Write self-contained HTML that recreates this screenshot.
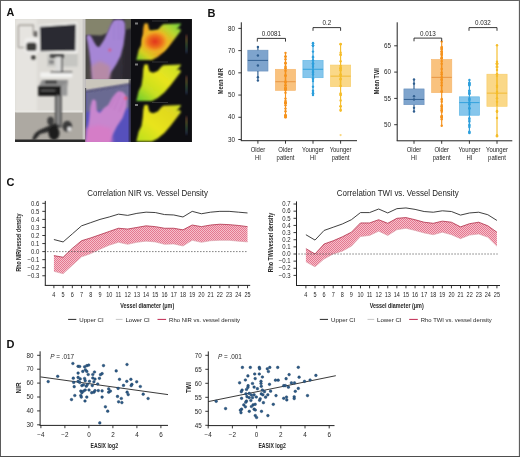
<!DOCTYPE html><html><head><meta charset="utf-8"><style>html,body{margin:0;padding:0;background:#fff;}svg{display:block;font-family:"Liberation Sans", sans-serif;will-change:transform;}</style></head><body>
<svg width="520" height="457" viewBox="0 0 520 457">
<rect width="520" height="457" fill="#fff"/>
<text x="6.40" y="15.80" font-size="10.8" text-anchor="start" font-weight="bold" fill="#111" >A</text>
<defs><filter id="bl1" x="-20%" y="-20%" width="140%" height="140%"><feGaussianBlur stdDeviation="0.8"/></filter><filter id="bl2" x="-20%" y="-20%" width="140%" height="140%"><feGaussianBlur stdDeviation="1.6"/></filter><filter id="bl3" x="-30%" y="-30%" width="160%" height="160%"><feGaussianBlur stdDeviation="3"/></filter><clipPath id="cpA1"><rect x="15" y="19" width="70" height="123"/></clipPath><clipPath id="cpA2"><rect x="85" y="19" width="46" height="60"/></clipPath><clipPath id="cpA3"><rect x="85" y="79" width="46" height="63"/></clipPath><clipPath id="cpA4"><rect x="131" y="19" width="61" height="123"/></clipPath><radialGradient id="hot" cx="0.45" cy="0.5" r="0.5"><stop offset="0" stop-color="#e0301c"/><stop offset="0.45" stop-color="#ec6a1e"/><stop offset="0.8" stop-color="#f0b422"/><stop offset="1" stop-color="#c8d828" stop-opacity="0"/></radialGradient><linearGradient id="th1" x1="0" y1="1" x2="1" y2="0"><stop offset="0" stop-color="#78d030"/><stop offset="0.18" stop-color="#d8d020"/><stop offset="0.35" stop-color="#f0a020"/><stop offset="0.6" stop-color="#f0b020"/><stop offset="0.78" stop-color="#b8d830"/><stop offset="1" stop-color="#70d040"/></linearGradient><linearGradient id="th2" x1="0" y1="1" x2="1" y2="0"><stop offset="0" stop-color="#68cc30"/><stop offset="0.3" stop-color="#c8e020"/><stop offset="0.6" stop-color="#e8e41e"/><stop offset="1" stop-color="#c8e028"/></linearGradient><linearGradient id="th3" x1="0" y1="1" x2="1" y2="0"><stop offset="0" stop-color="#b8e020"/><stop offset="0.4" stop-color="#e8e41c"/><stop offset="0.8" stop-color="#e0d820"/><stop offset="1" stop-color="#c8e028"/></linearGradient><linearGradient id="cbar" x1="0" y1="0" x2="0" y2="1"><stop offset="0" stop-color="#c05050"/><stop offset="0.3" stop-color="#c8b040"/><stop offset="0.6" stop-color="#60b060"/><stop offset="1" stop-color="#4050a0"/></linearGradient></defs>
<g clip-path="url(#cpA1)">
<rect x="15" y="19" width="70" height="123" fill="#dddbd6"/>
<rect x="15" y="19" width="22" height="93" fill="#e6e4e0" filter="url(#bl2)"/>
<rect x="47.2" y="54" width="30.5" height="12.6" fill="#c6c6c2" filter="url(#bl1)"/>
<rect x="15" y="112" width="70" height="30" fill="#ada9a2"/>
<rect x="15" y="110.6" width="70" height="2" fill="#ecebe7" filter="url(#bl1)"/>
<rect x="82.6" y="19" width="2.4" height="123" fill="#c8c6c4"/>
<g filter="url(#bl1)">
<path d="M18.3,47.5 L18.3,26.5 Q18.3,25.1 19.7,25.1 L33.3,25.1 L33.3,35.5" fill="none" stroke="#96928c" stroke-width="1.1"/>
<path d="M18.3,47.5 L25,47.5" fill="none" stroke="#96928c" stroke-width="1.1"/>
<rect x="33.8" y="31.2" width="3.6" height="5.7" fill="#6a6866"/>
<rect x="24.4" y="37.8" width="14.1" height="15.1" rx="4" fill="#efeeec"/>
<rect x="26.3" y="42.5" width="10.3" height="8.5" rx="2.5" fill="#3e3c3a"/>
<circle cx="33.4" cy="57.5" r="2.3" fill="#3a3836"/>
<path d="M38.8,25.2 L77.3,22.3 L77.3,53.1 L38.8,52.1 Z" fill="#f4f4f2"/>
<path d="M39.8,26.7 L75.9,24.3 L75.4,50.7 L40.3,51.2 Z" fill="#2c2b30"/>
<rect x="50" y="54" width="14" height="4" fill="#4a4a4a"/>
<rect x="55.5" y="57" width="7" height="15" fill="#dcdcda"/>
<rect x="61" y="57" width="1.6" height="15" fill="#555"/>
<rect x="49" y="60" width="5" height="4" fill="#8a8a8a"/>
<rect x="40.3" y="72.4" width="32" height="5" fill="#f2f2f0"/>
<rect x="50.3" y="71.6" width="22" height="1.3" fill="#3a3a3a"/>
<path d="M39,86 L42,80 L68,80 L67.3,86 Z" fill="#8c8c8c"/>
<rect x="45" y="80.6" width="12" height="3" fill="#3a3a3a"/>
<rect x="38.2" y="86" width="23" height="10" fill="#1e1e1e"/>
<path d="M61,86 L67.3,82 L67.3,95.7 L61,95.7 Z" fill="#9a9a9a"/>
<rect x="41" y="90" width="14" height="1.2" fill="#666"/>
<rect x="54.9" y="95.7" width="6.9" height="32" fill="#585858"/>
<rect x="57" y="95.7" width="2.6" height="30" fill="#909090"/>
<path d="M32,140 Q34,131 44,128 L55.5,123 L60,126 L52,131 L40,134 L35,140 Z" fill="#2a2a2a"/>
<ellipse cx="54" cy="133" rx="5.5" ry="7" fill="#1e1e1e"/>
<ellipse cx="50.6" cy="121" rx="3.3" ry="4.2" fill="#3c3c3c"/>
<ellipse cx="67.3" cy="126.3" rx="4.8" ry="5.5" fill="#3a3a3a"/>
<circle cx="69.4" cy="129" r="2.2" fill="#e2e2e2"/>
</g>
<rect x="15" y="139.5" width="70" height="2.5" fill="#2a2a2a"/>
</g>
<g clip-path="url(#cpA2)">
<rect x="85" y="19" width="46" height="61" fill="#34303a"/>
<path d="M84,18 L114,18 L111,25 L107.5,33 L101,35.5 L90,35 L84,36 Z" fill="#84846c" filter="url(#bl1)"/>
<path d="M84,36 L89,36 L91,80 L84,80 Z" fill="#4a4644" filter="url(#bl1)"/>
<path d="M124,18 L132,18 L132,80 L122,80 Z" fill="#2a282e" filter="url(#bl1)"/>
<path d="M124,18 L132,18 L132,28 L125,30 Z" fill="#5a5a4e" filter="url(#bl1)"/>
<rect x="84" y="18" width="1.6" height="62" fill="#bcbab6"/>
<g filter="url(#bl1)">
<path d="M92,80 L90.8,65.5 L89.2,52 L87.8,43 L86.6,37.5 Q86.8,34.6 89.5,34.8 L91.5,37 L94,42 L96.5,46 L99,47.2 L102,43 L104.5,39 L107.2,33 L110.6,25 L113.4,20.5 L116.5,19.4 L120,19.4 L123.3,20.3 L125,23.4 L125.2,31.6 L123.5,45.1 L120.6,56 L116.5,64.1 L111.1,72.2 L108.4,80 Z" fill="#a686d6"/>
<path d="M92,82 L91,66 L100,61 L110,66 L110,82 Z" fill="#bc8c98" opacity="0.75" filter="url(#bl2)"/>
<path d="M114,22 L114,40 M118.5,21 L118.5,40 M122.5,22 L121.5,40" stroke="#9070c0" stroke-width="0.6" opacity="0.6"/>
<circle cx="109.8" cy="49.9" r="1.5" fill="#e04868" opacity="0.85"/>
</g>
</g>
<g clip-path="url(#cpA3)">
<rect x="85" y="79" width="46" height="64" fill="#5650bc"/>
<path d="M86,91 L130,84 L130,108 L86,112 Z" fill="#6a6a92" filter="url(#bl2)"/>
<path d="M84,78 L132,78 L132,83.5 L84,91 Z" fill="#cac6bc" filter="url(#bl1)"/>
<path d="M85,91.5 L130,84 " stroke="#3a3a40" stroke-width="1.2" fill="none" filter="url(#bl1)"/>
<rect x="84" y="88" width="2.2" height="55" fill="#5a5a5e"/>
<rect x="129.3" y="79" width="2.7" height="64" fill="#2a2a2e" filter="url(#bl1)"/>
<g filter="url(#bl1)">
<path d="M85.4,143 L86.8,135 L89,120.7 L90.4,106.5 L92,100.5 Q93.3,98.8 94.6,99.8 L96.1,101.5 L96.8,110.8 L99.7,112.9 L104,108 L108.2,105 L112,98 L115.3,93.7 L118.2,91.3 L122.5,91.8 L125.5,94.5 L126.8,99 L126.7,106.5 L122.5,117.9 L116.8,126.4 L112.5,135 L109.6,143 Z" fill="#c886ce"/>
<path d="M85,145 L86,128 L98,125 L111,128 L113,145 Z" fill="#d87cc6" opacity="0.85" filter="url(#bl2)"/>
<path d="M117,94 L110,108 M121,93 L114,110 M125,97 L119,112" stroke="#b060b0" stroke-width="0.6" opacity="0.6"/>
<circle cx="125.8" cy="98.2" r="1.6" fill="#ee5a78"/>
</g>
</g>
<g clip-path="url(#cpA4)">
<rect x="131" y="19" width="61" height="123" fill="#0e0e12"/>
<path d="M136.3,60.0 L138.7,50.1 L141.5,44.4 L142.7,36.3 L143.3,28.2 L144.4,23.6 L147.9,23.4 L148.5,27.1 L149.6,30.5 L153.1,31.7 L157.7,30.0 L161.1,25.9 L163.4,24.2 L180.7,23.4 L180.9,24.4 L176.6,29.2 L179.6,28.6 L181.0,30.5 L178.4,34.0 L170.4,44.4 L164.6,51.3 L157.7,57.1 L151.9,60.0 Z" fill="url(#th1)" filter="url(#bl1)"/>
<ellipse cx="156.5" cy="41.5" rx="15" ry="12.5" fill="url(#hot)" filter="url(#bl1)"/>
<rect x="185.6" y="35" width="1.8" height="18" fill="url(#cbar)" opacity="0.55" filter="url(#bl1)"/>
<rect x="135" y="22.5" width="3" height="2" fill="#aaa" opacity="0.7"/>
<rect x="152" y="20.5" width="16" height="1" fill="#888" opacity="0.3"/>
<path d="M136.3,101.0 L138.7,91.1 L141.5,85.4 L142.7,77.3 L143.3,69.2 L144.4,64.6 L147.9,64.4 L148.5,68.1 L149.6,71.5 L153.1,72.7 L157.7,71.0 L161.1,66.9 L163.4,65.2 L180.7,64.4 L180.9,65.4 L176.6,70.2 L179.6,69.6 L181.0,71.5 L178.4,75.0 L170.4,85.4 L164.6,92.3 L157.7,98.1 L151.9,101.0 Z" fill="url(#th2)" filter="url(#bl1)"/>
<rect x="185.6" y="76" width="1.8" height="18" fill="url(#cbar)" opacity="0.55" filter="url(#bl1)"/>
<rect x="135" y="63.5" width="3" height="2" fill="#aaa" opacity="0.7"/>
<rect x="152" y="61.5" width="16" height="1" fill="#888" opacity="0.3"/>
<path d="M136.3,141.5 L138.7,131.6 L141.5,125.9 L142.7,117.8 L143.3,109.7 L144.4,105.1 L147.9,104.9 L148.5,108.6 L149.6,112.0 L153.1,113.2 L157.7,111.5 L161.1,107.4 L163.4,105.7 L180.7,104.9 L180.9,105.9 L176.6,110.7 L179.6,110.1 L181.0,112.0 L178.4,115.5 L170.4,125.9 L164.6,132.8 L157.7,138.6 L151.9,141.5 Z" fill="url(#th3)" filter="url(#bl1)"/>
<rect x="185.6" y="116.5" width="1.8" height="18" fill="url(#cbar)" opacity="0.55" filter="url(#bl1)"/>
<rect x="135" y="104.0" width="3" height="2" fill="#aaa" opacity="0.7"/>
<rect x="152" y="102.0" width="16" height="1" fill="#888" opacity="0.3"/>
<rect x="191" y="19" width="1" height="123" fill="#1a1a1a"/>
</g>
<text x="207.60" y="16.60" font-size="11" text-anchor="start" font-weight="bold" fill="#111" >B</text>
<rect x="247.80" y="50.18" width="20.2" height="20.89" fill="#7ea4cd" stroke="#6a90bd" stroke-width="0.6"/>
<line x1="247.80" y1="60.40" x2="268.00" y2="60.40" stroke="#2f5e8f" stroke-width="0.95" />
<line x1="257.90" y1="47.06" x2="257.90" y2="50.18" stroke="#2f5e8f" stroke-width="1.15" />
<line x1="257.90" y1="71.06" x2="257.90" y2="80.62" stroke="#2f5e8f" stroke-width="1.15" />
<circle cx="257.90" cy="47.06" r="1.2" fill="#2f5e8f"/>
<circle cx="257.90" cy="55.51" r="1.2" fill="#2f5e8f"/>
<circle cx="257.90" cy="65.51" r="1.2" fill="#2f5e8f"/>
<circle cx="257.90" cy="77.28" r="1.2" fill="#2f5e8f"/>
<circle cx="257.90" cy="80.62" r="1.2" fill="#2f5e8f"/>
<rect x="275.40" y="69.28" width="20.2" height="21.11" fill="#f9c27e" stroke="#f6b468" stroke-width="0.6"/>
<line x1="275.40" y1="81.73" x2="295.60" y2="81.73" stroke="#e89440" stroke-width="0.95" />
<line x1="285.50" y1="52.84" x2="285.50" y2="69.28" stroke="#f5921c" stroke-width="1.15" />
<line x1="285.50" y1="90.39" x2="285.50" y2="117.50" stroke="#f5921c" stroke-width="1.15" />
<circle cx="285.50" cy="108.62" r="1.2" fill="#f5921c"/>
<circle cx="285.50" cy="62.67" r="1.2" fill="#f5921c"/>
<circle cx="285.50" cy="68.06" r="1.2" fill="#f5921c"/>
<circle cx="285.50" cy="100.84" r="1.2" fill="#f5921c"/>
<circle cx="285.50" cy="85.36" r="1.2" fill="#f5921c"/>
<circle cx="285.50" cy="88.32" r="1.2" fill="#f5921c"/>
<circle cx="285.50" cy="75.29" r="1.2" fill="#f5921c"/>
<circle cx="285.50" cy="66.46" r="1.2" fill="#f5921c"/>
<circle cx="285.50" cy="111.23" r="1.2" fill="#f5921c"/>
<circle cx="285.50" cy="115.45" r="1.2" fill="#f5921c"/>
<circle cx="285.50" cy="63.42" r="1.2" fill="#f5921c"/>
<circle cx="285.50" cy="89.39" r="1.2" fill="#f5921c"/>
<circle cx="285.50" cy="68.16" r="1.2" fill="#f5921c"/>
<circle cx="285.50" cy="117.14" r="1.2" fill="#f5921c"/>
<circle cx="285.50" cy="88.58" r="1.2" fill="#f5921c"/>
<circle cx="285.50" cy="70.79" r="1.2" fill="#f5921c"/>
<circle cx="285.50" cy="102.54" r="1.2" fill="#f5921c"/>
<circle cx="285.50" cy="56.37" r="1.2" fill="#f5921c"/>
<circle cx="285.50" cy="59.19" r="1.2" fill="#f5921c"/>
<circle cx="285.50" cy="115.31" r="1.2" fill="#f5921c"/>
<circle cx="285.50" cy="115.64" r="1.2" fill="#f5921c"/>
<circle cx="285.50" cy="82.39" r="1.2" fill="#f5921c"/>
<circle cx="285.50" cy="56.76" r="1.2" fill="#f5921c"/>
<circle cx="285.50" cy="92.72" r="1.2" fill="#f5921c"/>
<circle cx="285.50" cy="103.32" r="1.2" fill="#f5921c"/>
<circle cx="285.50" cy="90.08" r="1.2" fill="#f5921c"/>
<circle cx="285.50" cy="115.41" r="1.2" fill="#f5921c"/>
<circle cx="285.50" cy="102.99" r="1.2" fill="#f5921c"/>
<circle cx="285.50" cy="89.06" r="1.2" fill="#f5921c"/>
<circle cx="285.50" cy="85.33" r="1.2" fill="#f5921c"/>
<circle cx="285.50" cy="102.26" r="1.2" fill="#f5921c"/>
<circle cx="285.50" cy="102.40" r="1.2" fill="#f5921c"/>
<circle cx="285.50" cy="103.18" r="1.2" fill="#f5921c"/>
<circle cx="285.50" cy="87.66" r="1.2" fill="#f5921c"/>
<circle cx="285.50" cy="98.61" r="1.2" fill="#f5921c"/>
<circle cx="285.50" cy="115.90" r="1.2" fill="#f5921c"/>
<circle cx="285.50" cy="63.31" r="1.2" fill="#f5921c"/>
<circle cx="285.50" cy="81.42" r="1.2" fill="#f5921c"/>
<circle cx="285.50" cy="75.89" r="1.2" fill="#f5921c"/>
<circle cx="285.50" cy="105.30" r="1.2" fill="#f5921c"/>
<circle cx="285.50" cy="117.28" r="1.2" fill="#f5921c"/>
<circle cx="285.50" cy="52.84" r="1.2" fill="#f5921c"/>
<line x1="285.50" y1="69.28" x2="285.50" y2="90.39" stroke="#f5921c" stroke-width="1.6"/>
<rect x="302.90" y="60.40" width="20.2" height="17.33" fill="#86c6ec" stroke="#5ab4e4" stroke-width="0.6"/>
<line x1="302.90" y1="69.28" x2="323.10" y2="69.28" stroke="#2d9fdc" stroke-width="0.95" />
<line x1="313.00" y1="43.07" x2="313.00" y2="60.40" stroke="#2d9fdc" stroke-width="1.15" />
<line x1="313.00" y1="77.73" x2="313.00" y2="95.50" stroke="#2d9fdc" stroke-width="1.15" />
<circle cx="313.00" cy="45.35" r="1.2" fill="#2d9fdc"/>
<circle cx="313.00" cy="45.78" r="1.2" fill="#2d9fdc"/>
<circle cx="313.00" cy="92.12" r="1.2" fill="#2d9fdc"/>
<circle cx="313.00" cy="90.65" r="1.2" fill="#2d9fdc"/>
<circle cx="313.00" cy="51.62" r="1.2" fill="#2d9fdc"/>
<circle cx="313.00" cy="56.79" r="1.2" fill="#2d9fdc"/>
<circle cx="313.00" cy="60.24" r="1.2" fill="#2d9fdc"/>
<circle cx="313.00" cy="79.04" r="1.2" fill="#2d9fdc"/>
<circle cx="313.00" cy="63.55" r="1.2" fill="#2d9fdc"/>
<circle cx="313.00" cy="63.51" r="1.2" fill="#2d9fdc"/>
<circle cx="313.00" cy="64.84" r="1.2" fill="#2d9fdc"/>
<circle cx="313.00" cy="86.82" r="1.2" fill="#2d9fdc"/>
<circle cx="313.00" cy="72.67" r="1.2" fill="#2d9fdc"/>
<circle cx="313.00" cy="74.60" r="1.2" fill="#2d9fdc"/>
<circle cx="313.00" cy="57.47" r="1.2" fill="#2d9fdc"/>
<circle cx="313.00" cy="43.33" r="1.2" fill="#2d9fdc"/>
<circle cx="313.00" cy="45.70" r="1.2" fill="#2d9fdc"/>
<circle cx="313.00" cy="66.77" r="1.2" fill="#2d9fdc"/>
<circle cx="313.00" cy="71.93" r="1.2" fill="#2d9fdc"/>
<circle cx="313.00" cy="81.11" r="1.2" fill="#2d9fdc"/>
<circle cx="313.00" cy="93.19" r="1.2" fill="#2d9fdc"/>
<circle cx="313.00" cy="93.63" r="1.2" fill="#2d9fdc"/>
<circle cx="313.00" cy="70.89" r="1.2" fill="#2d9fdc"/>
<circle cx="313.00" cy="78.50" r="1.2" fill="#2d9fdc"/>
<circle cx="313.00" cy="95.06" r="1.2" fill="#2d9fdc"/>
<circle cx="313.00" cy="43.07" r="1.2" fill="#2d9fdc"/>
<line x1="313.00" y1="60.40" x2="313.00" y2="77.73" stroke="#2d9fdc" stroke-width="1.6"/>
<rect x="330.50" y="65.06" width="20.2" height="21.55" fill="#fad888" stroke="#f7cc66" stroke-width="0.6"/>
<line x1="330.50" y1="76.17" x2="350.70" y2="76.17" stroke="#f0b830" stroke-width="0.95" />
<line x1="340.60" y1="43.95" x2="340.60" y2="65.06" stroke="#f5bd2a" stroke-width="1.15" />
<line x1="340.60" y1="86.62" x2="340.60" y2="111.50" stroke="#f5bd2a" stroke-width="1.15" />
<circle cx="340.60" cy="94.75" r="1.2" fill="#f5bd2a"/>
<circle cx="340.60" cy="74.34" r="1.2" fill="#f5bd2a"/>
<circle cx="340.60" cy="85.95" r="1.2" fill="#f5bd2a"/>
<circle cx="340.60" cy="70.36" r="1.2" fill="#f5bd2a"/>
<circle cx="340.60" cy="68.90" r="1.2" fill="#f5bd2a"/>
<circle cx="340.60" cy="106.25" r="1.2" fill="#f5bd2a"/>
<circle cx="340.60" cy="109.74" r="1.2" fill="#f5bd2a"/>
<circle cx="340.60" cy="54.79" r="1.2" fill="#f5bd2a"/>
<circle cx="340.60" cy="93.33" r="1.2" fill="#f5bd2a"/>
<circle cx="340.60" cy="94.99" r="1.2" fill="#f5bd2a"/>
<circle cx="340.60" cy="44.24" r="1.2" fill="#f5bd2a"/>
<circle cx="340.60" cy="79.27" r="1.2" fill="#f5bd2a"/>
<circle cx="340.60" cy="54.86" r="1.2" fill="#f5bd2a"/>
<circle cx="340.60" cy="78.86" r="1.2" fill="#f5bd2a"/>
<circle cx="340.60" cy="68.01" r="1.2" fill="#f5bd2a"/>
<circle cx="340.60" cy="100.57" r="1.2" fill="#f5bd2a"/>
<circle cx="340.60" cy="68.29" r="1.2" fill="#f5bd2a"/>
<circle cx="340.60" cy="52.75" r="1.2" fill="#f5bd2a"/>
<circle cx="340.60" cy="75.74" r="1.2" fill="#f5bd2a"/>
<circle cx="340.60" cy="61.20" r="1.2" fill="#f5bd2a"/>
<circle cx="340.60" cy="65.86" r="1.2" fill="#f5bd2a"/>
<circle cx="340.60" cy="106.35" r="1.2" fill="#f5bd2a"/>
<circle cx="340.60" cy="110.61" r="1.2" fill="#f5bd2a"/>
<circle cx="340.60" cy="43.95" r="1.2" fill="#f5bd2a"/>
<line x1="340.60" y1="65.06" x2="340.60" y2="86.62" stroke="#f5bd2a" stroke-width="1.6"/>
<line x1="241.30" y1="22.30" x2="241.30" y2="140.70" stroke="#222" stroke-width="1" />
<line x1="240.80" y1="140.70" x2="357.00" y2="140.70" stroke="#222" stroke-width="1" />
<line x1="238.30" y1="139.50" x2="241.30" y2="139.50" stroke="#222" stroke-width="0.9" />
<text x="235.10" y="141.70" font-size="6.3" text-anchor="end" font-weight="normal" fill="#262626" >30</text>
<line x1="238.30" y1="117.28" x2="241.30" y2="117.28" stroke="#222" stroke-width="0.9" />
<text x="235.10" y="119.48" font-size="6.3" text-anchor="end" font-weight="normal" fill="#262626" >40</text>
<line x1="238.30" y1="95.06" x2="241.30" y2="95.06" stroke="#222" stroke-width="0.9" />
<text x="235.10" y="97.26" font-size="6.3" text-anchor="end" font-weight="normal" fill="#262626" >50</text>
<line x1="238.30" y1="72.84" x2="241.30" y2="72.84" stroke="#222" stroke-width="0.9" />
<text x="235.10" y="75.04" font-size="6.3" text-anchor="end" font-weight="normal" fill="#262626" >60</text>
<line x1="238.30" y1="50.62" x2="241.30" y2="50.62" stroke="#222" stroke-width="0.9" />
<text x="235.10" y="52.82" font-size="6.3" text-anchor="end" font-weight="normal" fill="#262626" >70</text>
<line x1="238.30" y1="28.40" x2="241.30" y2="28.40" stroke="#222" stroke-width="0.9" />
<text x="235.10" y="30.60" font-size="6.3" text-anchor="end" font-weight="normal" fill="#262626" >80</text>
<line x1="257.90" y1="140.70" x2="257.90" y2="143.70" stroke="#222" stroke-width="0.9" />
<line x1="285.50" y1="140.70" x2="285.50" y2="143.70" stroke="#222" stroke-width="0.9" />
<line x1="313.00" y1="140.70" x2="313.00" y2="143.70" stroke="#222" stroke-width="0.9" />
<line x1="340.60" y1="140.70" x2="340.60" y2="143.70" stroke="#222" stroke-width="0.9" />
<text transform="translate(257.90,152.30) scale(0.93,1)" font-size="6.4" text-anchor="middle" fill="#262626">Older</text>
<text transform="translate(257.90,159.80) scale(0.93,1)" font-size="6.4" text-anchor="middle" fill="#262626">HI</text>
<text transform="translate(285.50,152.30) scale(0.93,1)" font-size="6.4" text-anchor="middle" fill="#262626">Older</text>
<text transform="translate(285.50,159.80) scale(0.93,1)" font-size="6.4" text-anchor="middle" fill="#262626">patient</text>
<text transform="translate(313.00,152.30) scale(0.93,1)" font-size="6.4" text-anchor="middle" fill="#262626">Younger</text>
<text transform="translate(313.00,159.80) scale(0.93,1)" font-size="6.4" text-anchor="middle" fill="#262626">HI</text>
<text transform="translate(340.60,152.30) scale(0.93,1)" font-size="6.4" text-anchor="middle" fill="#262626">Younger</text>
<text transform="translate(340.60,159.80) scale(0.93,1)" font-size="6.4" text-anchor="middle" fill="#262626">patient</text>
<path d="M257.30,41.60 L257.30,38.40 L285.50,38.40 L285.50,41.60" fill="none" stroke="#222" stroke-width="0.9"/>
<text x="271.40" y="35.90" font-size="6.3" text-anchor="middle" font-weight="normal" fill="#262626" >0.0081</text>
<path d="M313.00,30.80 L313.00,27.60 L340.60,27.60 L340.60,30.80" fill="none" stroke="#222" stroke-width="0.9"/>
<text x="326.80" y="25.10" font-size="6.3" text-anchor="middle" font-weight="normal" fill="#262626" >0.2</text>
<text transform="translate(222.60,81.20) rotate(-90)" font-size="7" font-weight="bold" text-anchor="middle" fill="#262626" textLength="26" lengthAdjust="spacingAndGlyphs">Mean NIR</text>
<circle cx="340.60" cy="135.06" r="1.1" fill="#f5bd2a" opacity="0.6"/>
<rect x="403.90" y="88.93" width="20.2" height="15.78" fill="#7ea4cd" stroke="#6a90bd" stroke-width="0.6"/>
<line x1="403.90" y1="99.45" x2="424.10" y2="99.45" stroke="#2f5e8f" stroke-width="0.95" />
<line x1="414.00" y1="79.46" x2="414.00" y2="88.93" stroke="#2f5e8f" stroke-width="1.15" />
<line x1="414.00" y1="104.71" x2="414.00" y2="111.55" stroke="#2f5e8f" stroke-width="1.15" />
<circle cx="414.00" cy="79.46" r="1.2" fill="#2f5e8f"/>
<circle cx="414.00" cy="83.67" r="1.2" fill="#2f5e8f"/>
<circle cx="414.00" cy="96.30" r="1.2" fill="#2f5e8f"/>
<circle cx="414.00" cy="99.45" r="1.2" fill="#2f5e8f"/>
<circle cx="414.00" cy="107.87" r="1.2" fill="#2f5e8f"/>
<circle cx="414.00" cy="111.55" r="1.2" fill="#2f5e8f"/>
<rect x="431.60" y="59.48" width="20.2" height="33.14" fill="#f9c27e" stroke="#f6b468" stroke-width="0.6"/>
<line x1="431.60" y1="77.36" x2="451.80" y2="77.36" stroke="#e89440" stroke-width="0.95" />
<line x1="441.70" y1="41.59" x2="441.70" y2="59.48" stroke="#f5921c" stroke-width="1.15" />
<line x1="441.70" y1="92.61" x2="441.70" y2="125.75" stroke="#f5921c" stroke-width="1.15" />
<circle cx="441.70" cy="105.08" r="1.2" fill="#f5921c"/>
<circle cx="441.70" cy="116.13" r="1.2" fill="#f5921c"/>
<circle cx="441.70" cy="91.78" r="1.2" fill="#f5921c"/>
<circle cx="441.70" cy="111.82" r="1.2" fill="#f5921c"/>
<circle cx="441.70" cy="119.17" r="1.2" fill="#f5921c"/>
<circle cx="441.70" cy="91.32" r="1.2" fill="#f5921c"/>
<circle cx="441.70" cy="48.41" r="1.2" fill="#f5921c"/>
<circle cx="441.70" cy="58.18" r="1.2" fill="#f5921c"/>
<circle cx="441.70" cy="61.11" r="1.2" fill="#f5921c"/>
<circle cx="441.70" cy="106.26" r="1.2" fill="#f5921c"/>
<circle cx="441.70" cy="80.10" r="1.2" fill="#f5921c"/>
<circle cx="441.70" cy="101.71" r="1.2" fill="#f5921c"/>
<circle cx="441.70" cy="110.35" r="1.2" fill="#f5921c"/>
<circle cx="441.70" cy="115.88" r="1.2" fill="#f5921c"/>
<circle cx="441.70" cy="106.88" r="1.2" fill="#f5921c"/>
<circle cx="441.70" cy="47.62" r="1.2" fill="#f5921c"/>
<circle cx="441.70" cy="55.81" r="1.2" fill="#f5921c"/>
<circle cx="441.70" cy="57.66" r="1.2" fill="#f5921c"/>
<circle cx="441.70" cy="58.18" r="1.2" fill="#f5921c"/>
<circle cx="441.70" cy="108.62" r="1.2" fill="#f5921c"/>
<circle cx="441.70" cy="98.95" r="1.2" fill="#f5921c"/>
<circle cx="441.70" cy="72.59" r="1.2" fill="#f5921c"/>
<circle cx="441.70" cy="63.87" r="1.2" fill="#f5921c"/>
<circle cx="441.70" cy="53.67" r="1.2" fill="#f5921c"/>
<circle cx="441.70" cy="51.56" r="1.2" fill="#f5921c"/>
<circle cx="441.70" cy="117.49" r="1.2" fill="#f5921c"/>
<circle cx="441.70" cy="74.35" r="1.2" fill="#f5921c"/>
<circle cx="441.70" cy="68.88" r="1.2" fill="#f5921c"/>
<circle cx="441.70" cy="82.65" r="1.2" fill="#f5921c"/>
<circle cx="441.70" cy="109.92" r="1.2" fill="#f5921c"/>
<circle cx="441.70" cy="85.34" r="1.2" fill="#f5921c"/>
<circle cx="441.70" cy="117.27" r="1.2" fill="#f5921c"/>
<circle cx="441.70" cy="47.03" r="1.2" fill="#f5921c"/>
<circle cx="441.70" cy="52.77" r="1.2" fill="#f5921c"/>
<circle cx="441.70" cy="79.19" r="1.2" fill="#f5921c"/>
<circle cx="441.70" cy="99.75" r="1.2" fill="#f5921c"/>
<circle cx="441.70" cy="49.17" r="1.2" fill="#f5921c"/>
<circle cx="441.70" cy="77.13" r="1.2" fill="#f5921c"/>
<circle cx="441.70" cy="51.37" r="1.2" fill="#f5921c"/>
<circle cx="441.70" cy="54.22" r="1.2" fill="#f5921c"/>
<circle cx="441.70" cy="125.75" r="1.2" fill="#f5921c"/>
<circle cx="441.70" cy="41.59" r="1.2" fill="#f5921c"/>
<line x1="441.70" y1="59.48" x2="441.70" y2="92.61" stroke="#f5921c" stroke-width="1.6"/>
<rect x="459.30" y="96.82" width="20.2" height="18.41" fill="#86c6ec" stroke="#5ab4e4" stroke-width="0.6"/>
<line x1="459.30" y1="102.61" x2="479.50" y2="102.61" stroke="#2d9fdc" stroke-width="0.95" />
<line x1="469.40" y1="79.99" x2="469.40" y2="96.82" stroke="#2d9fdc" stroke-width="1.15" />
<line x1="469.40" y1="115.23" x2="469.40" y2="133.12" stroke="#2d9fdc" stroke-width="1.15" />
<circle cx="469.40" cy="100.02" r="1.2" fill="#2d9fdc"/>
<circle cx="469.40" cy="93.71" r="1.2" fill="#2d9fdc"/>
<circle cx="469.40" cy="90.87" r="1.2" fill="#2d9fdc"/>
<circle cx="469.40" cy="83.05" r="1.2" fill="#2d9fdc"/>
<circle cx="469.40" cy="93.81" r="1.2" fill="#2d9fdc"/>
<circle cx="469.40" cy="84.12" r="1.2" fill="#2d9fdc"/>
<circle cx="469.40" cy="131.58" r="1.2" fill="#2d9fdc"/>
<circle cx="469.40" cy="108.38" r="1.2" fill="#2d9fdc"/>
<circle cx="469.40" cy="83.00" r="1.2" fill="#2d9fdc"/>
<circle cx="469.40" cy="98.64" r="1.2" fill="#2d9fdc"/>
<circle cx="469.40" cy="85.25" r="1.2" fill="#2d9fdc"/>
<circle cx="469.40" cy="127.10" r="1.2" fill="#2d9fdc"/>
<circle cx="469.40" cy="108.20" r="1.2" fill="#2d9fdc"/>
<circle cx="469.40" cy="120.02" r="1.2" fill="#2d9fdc"/>
<circle cx="469.40" cy="104.23" r="1.2" fill="#2d9fdc"/>
<circle cx="469.40" cy="102.62" r="1.2" fill="#2d9fdc"/>
<circle cx="469.40" cy="132.42" r="1.2" fill="#2d9fdc"/>
<circle cx="469.40" cy="121.60" r="1.2" fill="#2d9fdc"/>
<circle cx="469.40" cy="118.27" r="1.2" fill="#2d9fdc"/>
<circle cx="469.40" cy="84.43" r="1.2" fill="#2d9fdc"/>
<circle cx="469.40" cy="92.44" r="1.2" fill="#2d9fdc"/>
<circle cx="469.40" cy="124.64" r="1.2" fill="#2d9fdc"/>
<circle cx="469.40" cy="90.77" r="1.2" fill="#2d9fdc"/>
<circle cx="469.40" cy="125.74" r="1.2" fill="#2d9fdc"/>
<circle cx="469.40" cy="133.12" r="1.2" fill="#2d9fdc"/>
<circle cx="469.40" cy="79.99" r="1.2" fill="#2d9fdc"/>
<line x1="469.40" y1="96.82" x2="469.40" y2="115.23" stroke="#2d9fdc" stroke-width="1.6"/>
<rect x="486.90" y="74.20" width="20.2" height="32.09" fill="#fad888" stroke="#f7cc66" stroke-width="0.6"/>
<line x1="486.90" y1="93.14" x2="507.10" y2="93.14" stroke="#f0b830" stroke-width="0.95" />
<line x1="497.00" y1="45.27" x2="497.00" y2="74.20" stroke="#f5bd2a" stroke-width="1.15" />
<line x1="497.00" y1="106.29" x2="497.00" y2="136.27" stroke="#f5bd2a" stroke-width="1.15" />
<circle cx="497.00" cy="64.28" r="1.2" fill="#f5bd2a"/>
<circle cx="497.00" cy="61.72" r="1.2" fill="#f5bd2a"/>
<circle cx="497.00" cy="91.85" r="1.2" fill="#f5bd2a"/>
<circle cx="497.00" cy="111.83" r="1.2" fill="#f5bd2a"/>
<circle cx="497.00" cy="135.18" r="1.2" fill="#f5bd2a"/>
<circle cx="497.00" cy="75.95" r="1.2" fill="#f5bd2a"/>
<circle cx="497.00" cy="93.17" r="1.2" fill="#f5bd2a"/>
<circle cx="497.00" cy="67.28" r="1.2" fill="#f5bd2a"/>
<circle cx="497.00" cy="101.85" r="1.2" fill="#f5bd2a"/>
<circle cx="497.00" cy="66.35" r="1.2" fill="#f5bd2a"/>
<circle cx="497.00" cy="110.84" r="1.2" fill="#f5bd2a"/>
<circle cx="497.00" cy="63.51" r="1.2" fill="#f5bd2a"/>
<circle cx="497.00" cy="69.96" r="1.2" fill="#f5bd2a"/>
<circle cx="497.00" cy="98.20" r="1.2" fill="#f5bd2a"/>
<circle cx="497.00" cy="87.08" r="1.2" fill="#f5bd2a"/>
<circle cx="497.00" cy="74.23" r="1.2" fill="#f5bd2a"/>
<circle cx="497.00" cy="117.96" r="1.2" fill="#f5bd2a"/>
<circle cx="497.00" cy="85.72" r="1.2" fill="#f5bd2a"/>
<circle cx="497.00" cy="63.23" r="1.2" fill="#f5bd2a"/>
<circle cx="497.00" cy="111.48" r="1.2" fill="#f5bd2a"/>
<circle cx="497.00" cy="63.38" r="1.2" fill="#f5bd2a"/>
<circle cx="497.00" cy="73.91" r="1.2" fill="#f5bd2a"/>
<circle cx="497.00" cy="136.27" r="1.2" fill="#f5bd2a"/>
<circle cx="497.00" cy="45.27" r="1.2" fill="#f5bd2a"/>
<line x1="497.00" y1="74.20" x2="497.00" y2="106.29" stroke="#f5bd2a" stroke-width="1.6"/>
<line x1="397.20" y1="22.30" x2="397.20" y2="140.80" stroke="#222" stroke-width="1" />
<line x1="396.70" y1="140.80" x2="512.30" y2="140.80" stroke="#222" stroke-width="1" />
<line x1="394.20" y1="124.70" x2="397.20" y2="124.70" stroke="#222" stroke-width="0.9" />
<text x="391.00" y="126.90" font-size="6.3" text-anchor="end" font-weight="normal" fill="#262626" >50</text>
<line x1="394.20" y1="98.40" x2="397.20" y2="98.40" stroke="#222" stroke-width="0.9" />
<text x="391.00" y="100.60" font-size="6.3" text-anchor="end" font-weight="normal" fill="#262626" >55</text>
<line x1="394.20" y1="72.10" x2="397.20" y2="72.10" stroke="#222" stroke-width="0.9" />
<text x="391.00" y="74.30" font-size="6.3" text-anchor="end" font-weight="normal" fill="#262626" >60</text>
<line x1="394.20" y1="45.80" x2="397.20" y2="45.80" stroke="#222" stroke-width="0.9" />
<text x="391.00" y="48.00" font-size="6.3" text-anchor="end" font-weight="normal" fill="#262626" >65</text>
<line x1="414.00" y1="140.80" x2="414.00" y2="143.80" stroke="#222" stroke-width="0.9" />
<line x1="441.70" y1="140.80" x2="441.70" y2="143.80" stroke="#222" stroke-width="0.9" />
<line x1="469.40" y1="140.80" x2="469.40" y2="143.80" stroke="#222" stroke-width="0.9" />
<line x1="497.00" y1="140.80" x2="497.00" y2="143.80" stroke="#222" stroke-width="0.9" />
<text transform="translate(414.00,152.40) scale(0.93,1)" font-size="6.4" text-anchor="middle" fill="#262626">Older</text>
<text transform="translate(414.00,159.90) scale(0.93,1)" font-size="6.4" text-anchor="middle" fill="#262626">HI</text>
<text transform="translate(441.70,152.40) scale(0.93,1)" font-size="6.4" text-anchor="middle" fill="#262626">Older</text>
<text transform="translate(441.70,159.90) scale(0.93,1)" font-size="6.4" text-anchor="middle" fill="#262626">patient</text>
<text transform="translate(469.40,152.40) scale(0.93,1)" font-size="6.4" text-anchor="middle" fill="#262626">Younger</text>
<text transform="translate(469.40,159.90) scale(0.93,1)" font-size="6.4" text-anchor="middle" fill="#262626">HI</text>
<text transform="translate(497.00,152.40) scale(0.93,1)" font-size="6.4" text-anchor="middle" fill="#262626">Younger</text>
<text transform="translate(497.00,159.90) scale(0.93,1)" font-size="6.4" text-anchor="middle" fill="#262626">patient</text>
<path d="M414.00,41.30 L414.00,38.10 L441.70,38.10 L441.70,41.30" fill="none" stroke="#222" stroke-width="0.9"/>
<text x="427.85" y="35.60" font-size="6.3" text-anchor="middle" font-weight="normal" fill="#262626" >0.013</text>
<path d="M469.00,30.80 L469.00,27.60 L497.00,27.60 L497.00,30.80" fill="none" stroke="#222" stroke-width="0.9"/>
<text x="483.00" y="25.10" font-size="6.3" text-anchor="middle" font-weight="normal" fill="#262626" >0.032</text>
<text transform="translate(378.60,81.20) rotate(-90)" font-size="7" font-weight="bold" text-anchor="middle" fill="#262626" textLength="26" lengthAdjust="spacingAndGlyphs">Mean TWI</text>
<defs><pattern id="hatch" width="2" height="2" patternUnits="userSpaceOnUse"><rect width="2" height="2" fill="#f6bfca"/><rect width="1" height="1" fill="#e47890"/><rect x="1" y="1" width="1" height="1" fill="#e47890"/></pattern></defs>
<text x="6.60" y="185.70" font-size="11" text-anchor="start" font-weight="bold" fill="#111" >C</text>
<polygon points="53.90,255.62 63.12,257.24 72.34,248.38 81.56,240.73 90.78,237.91 100.00,234.69 109.22,231.47 118.44,228.25 127.66,229.06 136.88,227.45 146.10,225.84 155.32,226.64 164.54,228.25 173.76,228.25 182.98,229.86 192.20,225.03 201.42,226.64 210.64,225.03 219.86,224.23 229.08,224.63 238.30,225.44 247.52,226.64 247.52,241.94 238.30,241.13 229.08,240.33 219.86,240.33 210.64,240.73 201.42,242.34 192.20,240.33 182.98,245.97 173.76,243.95 164.54,244.35 155.32,241.94 146.10,241.13 136.88,242.34 127.66,244.35 118.44,242.34 109.22,245.16 100.00,249.19 90.78,253.61 81.56,256.83 72.34,265.28 63.12,273.74 53.90,271.32" fill="url(#hatch)" stroke="none"/>
<polyline points="53.90,255.62 63.12,257.24 72.34,248.38 81.56,240.73 90.78,237.91 100.00,234.69 109.22,231.47 118.44,228.25 127.66,229.06 136.88,227.45 146.10,225.84 155.32,226.64 164.54,228.25 173.76,228.25 182.98,229.86 192.20,225.03 201.42,226.64 210.64,225.03 219.86,224.23 229.08,224.63 238.30,225.44 247.52,226.64" fill="none" stroke="#b0304a" stroke-width="0.8"/>
<polyline points="53.90,271.32 63.12,273.74 72.34,265.28 81.56,256.83 90.78,253.61 100.00,249.19 109.22,245.16 118.44,242.34 127.66,244.35 136.88,242.34 146.10,241.13 155.32,241.94 164.54,244.35 173.76,243.95 182.98,245.97 192.20,240.33 201.42,242.34 210.64,240.73 219.86,240.33 229.08,240.33 238.30,241.13 247.52,241.94" fill="none" stroke="#d8a0aa" stroke-width="0.6"/>
<polyline points="53.90,239.53 63.12,241.94 72.34,233.89 81.56,225.84 90.78,222.62 100.00,219.40 109.22,216.98 118.44,214.17 127.66,215.38 136.88,213.36 146.10,212.16 155.32,212.56 164.54,214.57 173.76,214.97 182.98,216.98 192.20,211.35 201.42,213.76 210.64,212.16 219.86,211.35 229.08,211.35 238.30,212.16 247.52,212.96" fill="none" stroke="#2a2a2a" stroke-width="0.9"/>
<line x1="47.30" y1="251.60" x2="247.00" y2="251.60" stroke="#3a3a3a" stroke-width="0.9" stroke-dasharray="1.1,1.9"/>
<line x1="45.30" y1="200.90" x2="45.30" y2="285.40" stroke="#222" stroke-width="1" />
<line x1="44.80" y1="285.40" x2="250.20" y2="285.40" stroke="#222" stroke-width="1" />
<line x1="42.30" y1="275.75" x2="45.30" y2="275.75" stroke="#222" stroke-width="0.9" />
<text transform="translate(39.30,277.95) scale(0.94,1)" font-size="6.4" text-anchor="end" fill="#262626">−0.3</text>
<line x1="42.30" y1="267.70" x2="45.30" y2="267.70" stroke="#222" stroke-width="0.9" />
<text transform="translate(39.30,269.90) scale(0.94,1)" font-size="6.4" text-anchor="end" fill="#262626">−0.2</text>
<line x1="42.30" y1="259.65" x2="45.30" y2="259.65" stroke="#222" stroke-width="0.9" />
<text transform="translate(39.30,261.85) scale(0.94,1)" font-size="6.4" text-anchor="end" fill="#262626">−0.1</text>
<line x1="42.30" y1="251.60" x2="45.30" y2="251.60" stroke="#222" stroke-width="0.9" />
<text transform="translate(39.30,253.80) scale(0.94,1)" font-size="6.4" text-anchor="end" fill="#262626">0.0</text>
<line x1="42.30" y1="243.55" x2="45.30" y2="243.55" stroke="#222" stroke-width="0.9" />
<text transform="translate(39.30,245.75) scale(0.94,1)" font-size="6.4" text-anchor="end" fill="#262626">0.1</text>
<line x1="42.30" y1="235.50" x2="45.30" y2="235.50" stroke="#222" stroke-width="0.9" />
<text transform="translate(39.30,237.70) scale(0.94,1)" font-size="6.4" text-anchor="end" fill="#262626">0.2</text>
<line x1="42.30" y1="227.45" x2="45.30" y2="227.45" stroke="#222" stroke-width="0.9" />
<text transform="translate(39.30,229.65) scale(0.94,1)" font-size="6.4" text-anchor="end" fill="#262626">0.3</text>
<line x1="42.30" y1="219.40" x2="45.30" y2="219.40" stroke="#222" stroke-width="0.9" />
<text transform="translate(39.30,221.60) scale(0.94,1)" font-size="6.4" text-anchor="end" fill="#262626">0.4</text>
<line x1="42.30" y1="211.35" x2="45.30" y2="211.35" stroke="#222" stroke-width="0.9" />
<text transform="translate(39.30,213.55) scale(0.94,1)" font-size="6.4" text-anchor="end" fill="#262626">0.5</text>
<line x1="42.30" y1="203.30" x2="45.30" y2="203.30" stroke="#222" stroke-width="0.9" />
<text transform="translate(39.30,205.50) scale(0.94,1)" font-size="6.4" text-anchor="end" fill="#262626">0.6</text>
<line x1="53.90" y1="285.40" x2="53.90" y2="288.20" stroke="#222" stroke-width="0.9" />
<text transform="translate(53.90,297.20) scale(0.86,1)" font-size="6.4" text-anchor="middle" fill="#262626">4</text>
<line x1="63.12" y1="285.40" x2="63.12" y2="288.20" stroke="#222" stroke-width="0.9" />
<text transform="translate(63.12,297.20) scale(0.86,1)" font-size="6.4" text-anchor="middle" fill="#262626">5</text>
<line x1="72.34" y1="285.40" x2="72.34" y2="288.20" stroke="#222" stroke-width="0.9" />
<text transform="translate(72.34,297.20) scale(0.86,1)" font-size="6.4" text-anchor="middle" fill="#262626">6</text>
<line x1="81.56" y1="285.40" x2="81.56" y2="288.20" stroke="#222" stroke-width="0.9" />
<text transform="translate(81.56,297.20) scale(0.86,1)" font-size="6.4" text-anchor="middle" fill="#262626">7</text>
<line x1="90.78" y1="285.40" x2="90.78" y2="288.20" stroke="#222" stroke-width="0.9" />
<text transform="translate(90.78,297.20) scale(0.86,1)" font-size="6.4" text-anchor="middle" fill="#262626">8</text>
<line x1="100.00" y1="285.40" x2="100.00" y2="288.20" stroke="#222" stroke-width="0.9" />
<text transform="translate(100.00,297.20) scale(0.86,1)" font-size="6.4" text-anchor="middle" fill="#262626">9</text>
<line x1="109.22" y1="285.40" x2="109.22" y2="288.20" stroke="#222" stroke-width="0.9" />
<text transform="translate(109.22,297.20) scale(0.86,1)" font-size="6.4" text-anchor="middle" fill="#262626">10</text>
<line x1="118.44" y1="285.40" x2="118.44" y2="288.20" stroke="#222" stroke-width="0.9" />
<text transform="translate(118.44,297.20) scale(0.86,1)" font-size="6.4" text-anchor="middle" fill="#262626">11</text>
<line x1="127.66" y1="285.40" x2="127.66" y2="288.20" stroke="#222" stroke-width="0.9" />
<text transform="translate(127.66,297.20) scale(0.86,1)" font-size="6.4" text-anchor="middle" fill="#262626">12</text>
<line x1="136.88" y1="285.40" x2="136.88" y2="288.20" stroke="#222" stroke-width="0.9" />
<text transform="translate(136.88,297.20) scale(0.86,1)" font-size="6.4" text-anchor="middle" fill="#262626">13</text>
<line x1="146.10" y1="285.40" x2="146.10" y2="288.20" stroke="#222" stroke-width="0.9" />
<text transform="translate(146.10,297.20) scale(0.86,1)" font-size="6.4" text-anchor="middle" fill="#262626">14</text>
<line x1="155.32" y1="285.40" x2="155.32" y2="288.20" stroke="#222" stroke-width="0.9" />
<text transform="translate(155.32,297.20) scale(0.86,1)" font-size="6.4" text-anchor="middle" fill="#262626">15</text>
<line x1="164.54" y1="285.40" x2="164.54" y2="288.20" stroke="#222" stroke-width="0.9" />
<text transform="translate(164.54,297.20) scale(0.86,1)" font-size="6.4" text-anchor="middle" fill="#262626">16</text>
<line x1="173.76" y1="285.40" x2="173.76" y2="288.20" stroke="#222" stroke-width="0.9" />
<text transform="translate(173.76,297.20) scale(0.86,1)" font-size="6.4" text-anchor="middle" fill="#262626">17</text>
<line x1="182.98" y1="285.40" x2="182.98" y2="288.20" stroke="#222" stroke-width="0.9" />
<text transform="translate(182.98,297.20) scale(0.86,1)" font-size="6.4" text-anchor="middle" fill="#262626">18</text>
<line x1="192.20" y1="285.40" x2="192.20" y2="288.20" stroke="#222" stroke-width="0.9" />
<text transform="translate(192.20,297.20) scale(0.86,1)" font-size="6.4" text-anchor="middle" fill="#262626">19</text>
<line x1="201.42" y1="285.40" x2="201.42" y2="288.20" stroke="#222" stroke-width="0.9" />
<text transform="translate(201.42,297.20) scale(0.86,1)" font-size="6.4" text-anchor="middle" fill="#262626">20</text>
<line x1="210.64" y1="285.40" x2="210.64" y2="288.20" stroke="#222" stroke-width="0.9" />
<text transform="translate(210.64,297.20) scale(0.86,1)" font-size="6.4" text-anchor="middle" fill="#262626">21</text>
<line x1="219.86" y1="285.40" x2="219.86" y2="288.20" stroke="#222" stroke-width="0.9" />
<text transform="translate(219.86,297.20) scale(0.86,1)" font-size="6.4" text-anchor="middle" fill="#262626">22</text>
<line x1="229.08" y1="285.40" x2="229.08" y2="288.20" stroke="#222" stroke-width="0.9" />
<text transform="translate(229.08,297.20) scale(0.86,1)" font-size="6.4" text-anchor="middle" fill="#262626">23</text>
<line x1="238.30" y1="285.40" x2="238.30" y2="288.20" stroke="#222" stroke-width="0.9" />
<text transform="translate(238.30,297.20) scale(0.86,1)" font-size="6.4" text-anchor="middle" fill="#262626">24</text>
<line x1="247.52" y1="285.40" x2="247.52" y2="288.20" stroke="#222" stroke-width="0.9" />
<text transform="translate(247.52,297.20) scale(0.86,1)" font-size="6.4" text-anchor="middle" fill="#262626">25</text>
<text x="147.60" y="195.7" font-size="8.6" text-anchor="middle" fill="#222" textLength="120.6" lengthAdjust="spacingAndGlyphs">Correlation NIR vs. Vessel Density</text>
<text x="147.20" y="308.00" font-size="7" font-weight="bold" text-anchor="middle" fill="#262626" textLength="54" lengthAdjust="spacingAndGlyphs">Vessel diameter (μm)</text>
<text transform="translate(21.40,242.60) rotate(-90)" font-size="7" font-weight="bold" text-anchor="middle" fill="#262626" textLength="58" lengthAdjust="spacingAndGlyphs">Rho NIR/vessel density</text>
<polygon points="305.90,248.65 315.00,254.00 324.09,244.00 333.19,240.79 342.28,236.86 351.38,232.22 360.48,222.94 369.57,222.94 378.67,219.73 387.76,223.30 396.86,218.30 405.96,217.59 415.05,219.73 424.15,222.23 433.24,223.30 442.34,221.16 451.44,222.23 460.53,226.87 469.63,223.66 478.72,222.23 487.82,225.80 496.92,232.22 496.92,246.15 487.82,237.22 478.72,234.01 469.63,235.08 460.53,238.65 451.44,234.72 442.34,232.22 433.24,234.72 424.15,232.94 415.05,230.44 405.96,228.30 396.86,229.72 387.76,235.44 378.67,231.15 369.57,235.44 360.48,236.51 351.38,246.15 342.28,251.14 333.19,254.00 324.09,259.00 315.00,266.85 305.90,261.85" fill="url(#hatch)" stroke="none"/>
<polyline points="305.90,248.65 315.00,254.00 324.09,244.00 333.19,240.79 342.28,236.86 351.38,232.22 360.48,222.94 369.57,222.94 378.67,219.73 387.76,223.30 396.86,218.30 405.96,217.59 415.05,219.73 424.15,222.23 433.24,223.30 442.34,221.16 451.44,222.23 460.53,226.87 469.63,223.66 478.72,222.23 487.82,225.80 496.92,232.22" fill="none" stroke="#b0304a" stroke-width="0.8"/>
<polyline points="305.90,261.85 315.00,266.85 324.09,259.00 333.19,254.00 342.28,251.14 351.38,246.15 360.48,236.51 369.57,235.44 378.67,231.15 387.76,235.44 396.86,229.72 405.96,228.30 415.05,230.44 424.15,232.94 433.24,234.72 442.34,232.22 451.44,234.72 460.53,238.65 469.63,235.08 478.72,234.01 487.82,237.22 496.92,246.15" fill="none" stroke="#d8a0aa" stroke-width="0.6"/>
<polyline points="305.90,234.72 315.00,240.08 324.09,230.44 333.19,227.22 342.28,224.01 351.38,219.73 360.48,212.59 369.57,212.59 378.67,209.02 387.76,212.94 396.86,208.66 405.96,207.95 415.05,209.38 424.15,211.52 433.24,212.23 442.34,210.80 451.44,211.52 460.53,215.09 469.63,212.94 478.72,212.23 487.82,214.73 496.92,220.44" fill="none" stroke="#2a2a2a" stroke-width="0.9"/>
<line x1="298.50" y1="254.00" x2="497.50" y2="254.00" stroke="#3a3a3a" stroke-width="0.9" stroke-dasharray="1.1,1.9"/>
<line x1="296.50" y1="201.40" x2="296.50" y2="285.50" stroke="#222" stroke-width="1" />
<line x1="296.00" y1="285.50" x2="500.00" y2="285.50" stroke="#222" stroke-width="1" />
<line x1="293.50" y1="275.42" x2="296.50" y2="275.42" stroke="#222" stroke-width="0.9" />
<text transform="translate(290.50,277.62) scale(0.94,1)" font-size="6.4" text-anchor="end" fill="#262626">−0.3</text>
<line x1="293.50" y1="268.28" x2="296.50" y2="268.28" stroke="#222" stroke-width="0.9" />
<text transform="translate(290.50,270.48) scale(0.94,1)" font-size="6.4" text-anchor="end" fill="#262626">−0.2</text>
<line x1="293.50" y1="261.14" x2="296.50" y2="261.14" stroke="#222" stroke-width="0.9" />
<text transform="translate(290.50,263.34) scale(0.94,1)" font-size="6.4" text-anchor="end" fill="#262626">−0.1</text>
<line x1="293.50" y1="254.00" x2="296.50" y2="254.00" stroke="#222" stroke-width="0.9" />
<text transform="translate(290.50,256.20) scale(0.94,1)" font-size="6.4" text-anchor="end" fill="#262626">0.0</text>
<line x1="293.50" y1="246.86" x2="296.50" y2="246.86" stroke="#222" stroke-width="0.9" />
<text transform="translate(290.50,249.06) scale(0.94,1)" font-size="6.4" text-anchor="end" fill="#262626">0.1</text>
<line x1="293.50" y1="239.72" x2="296.50" y2="239.72" stroke="#222" stroke-width="0.9" />
<text transform="translate(290.50,241.92) scale(0.94,1)" font-size="6.4" text-anchor="end" fill="#262626">0.2</text>
<line x1="293.50" y1="232.58" x2="296.50" y2="232.58" stroke="#222" stroke-width="0.9" />
<text transform="translate(290.50,234.78) scale(0.94,1)" font-size="6.4" text-anchor="end" fill="#262626">0.3</text>
<line x1="293.50" y1="225.44" x2="296.50" y2="225.44" stroke="#222" stroke-width="0.9" />
<text transform="translate(290.50,227.64) scale(0.94,1)" font-size="6.4" text-anchor="end" fill="#262626">0.4</text>
<line x1="293.50" y1="218.30" x2="296.50" y2="218.30" stroke="#222" stroke-width="0.9" />
<text transform="translate(290.50,220.50) scale(0.94,1)" font-size="6.4" text-anchor="end" fill="#262626">0.5</text>
<line x1="293.50" y1="211.16" x2="296.50" y2="211.16" stroke="#222" stroke-width="0.9" />
<text transform="translate(290.50,213.36) scale(0.94,1)" font-size="6.4" text-anchor="end" fill="#262626">0.6</text>
<line x1="293.50" y1="204.02" x2="296.50" y2="204.02" stroke="#222" stroke-width="0.9" />
<text transform="translate(290.50,206.22) scale(0.94,1)" font-size="6.4" text-anchor="end" fill="#262626">0.7</text>
<line x1="305.90" y1="285.50" x2="305.90" y2="288.30" stroke="#222" stroke-width="0.9" />
<text transform="translate(305.90,297.30) scale(0.86,1)" font-size="6.4" text-anchor="middle" fill="#262626">4</text>
<line x1="315.00" y1="285.50" x2="315.00" y2="288.30" stroke="#222" stroke-width="0.9" />
<text transform="translate(315.00,297.30) scale(0.86,1)" font-size="6.4" text-anchor="middle" fill="#262626">5</text>
<line x1="324.09" y1="285.50" x2="324.09" y2="288.30" stroke="#222" stroke-width="0.9" />
<text transform="translate(324.09,297.30) scale(0.86,1)" font-size="6.4" text-anchor="middle" fill="#262626">6</text>
<line x1="333.19" y1="285.50" x2="333.19" y2="288.30" stroke="#222" stroke-width="0.9" />
<text transform="translate(333.19,297.30) scale(0.86,1)" font-size="6.4" text-anchor="middle" fill="#262626">7</text>
<line x1="342.28" y1="285.50" x2="342.28" y2="288.30" stroke="#222" stroke-width="0.9" />
<text transform="translate(342.28,297.30) scale(0.86,1)" font-size="6.4" text-anchor="middle" fill="#262626">8</text>
<line x1="351.38" y1="285.50" x2="351.38" y2="288.30" stroke="#222" stroke-width="0.9" />
<text transform="translate(351.38,297.30) scale(0.86,1)" font-size="6.4" text-anchor="middle" fill="#262626">9</text>
<line x1="360.48" y1="285.50" x2="360.48" y2="288.30" stroke="#222" stroke-width="0.9" />
<text transform="translate(360.48,297.30) scale(0.86,1)" font-size="6.4" text-anchor="middle" fill="#262626">10</text>
<line x1="369.57" y1="285.50" x2="369.57" y2="288.30" stroke="#222" stroke-width="0.9" />
<text transform="translate(369.57,297.30) scale(0.86,1)" font-size="6.4" text-anchor="middle" fill="#262626">11</text>
<line x1="378.67" y1="285.50" x2="378.67" y2="288.30" stroke="#222" stroke-width="0.9" />
<text transform="translate(378.67,297.30) scale(0.86,1)" font-size="6.4" text-anchor="middle" fill="#262626">12</text>
<line x1="387.76" y1="285.50" x2="387.76" y2="288.30" stroke="#222" stroke-width="0.9" />
<text transform="translate(387.76,297.30) scale(0.86,1)" font-size="6.4" text-anchor="middle" fill="#262626">13</text>
<line x1="396.86" y1="285.50" x2="396.86" y2="288.30" stroke="#222" stroke-width="0.9" />
<text transform="translate(396.86,297.30) scale(0.86,1)" font-size="6.4" text-anchor="middle" fill="#262626">14</text>
<line x1="405.96" y1="285.50" x2="405.96" y2="288.30" stroke="#222" stroke-width="0.9" />
<text transform="translate(405.96,297.30) scale(0.86,1)" font-size="6.4" text-anchor="middle" fill="#262626">15</text>
<line x1="415.05" y1="285.50" x2="415.05" y2="288.30" stroke="#222" stroke-width="0.9" />
<text transform="translate(415.05,297.30) scale(0.86,1)" font-size="6.4" text-anchor="middle" fill="#262626">16</text>
<line x1="424.15" y1="285.50" x2="424.15" y2="288.30" stroke="#222" stroke-width="0.9" />
<text transform="translate(424.15,297.30) scale(0.86,1)" font-size="6.4" text-anchor="middle" fill="#262626">17</text>
<line x1="433.24" y1="285.50" x2="433.24" y2="288.30" stroke="#222" stroke-width="0.9" />
<text transform="translate(433.24,297.30) scale(0.86,1)" font-size="6.4" text-anchor="middle" fill="#262626">18</text>
<line x1="442.34" y1="285.50" x2="442.34" y2="288.30" stroke="#222" stroke-width="0.9" />
<text transform="translate(442.34,297.30) scale(0.86,1)" font-size="6.4" text-anchor="middle" fill="#262626">19</text>
<line x1="451.44" y1="285.50" x2="451.44" y2="288.30" stroke="#222" stroke-width="0.9" />
<text transform="translate(451.44,297.30) scale(0.86,1)" font-size="6.4" text-anchor="middle" fill="#262626">20</text>
<line x1="460.53" y1="285.50" x2="460.53" y2="288.30" stroke="#222" stroke-width="0.9" />
<text transform="translate(460.53,297.30) scale(0.86,1)" font-size="6.4" text-anchor="middle" fill="#262626">21</text>
<line x1="469.63" y1="285.50" x2="469.63" y2="288.30" stroke="#222" stroke-width="0.9" />
<text transform="translate(469.63,297.30) scale(0.86,1)" font-size="6.4" text-anchor="middle" fill="#262626">22</text>
<line x1="478.72" y1="285.50" x2="478.72" y2="288.30" stroke="#222" stroke-width="0.9" />
<text transform="translate(478.72,297.30) scale(0.86,1)" font-size="6.4" text-anchor="middle" fill="#262626">23</text>
<line x1="487.82" y1="285.50" x2="487.82" y2="288.30" stroke="#222" stroke-width="0.9" />
<text transform="translate(487.82,297.30) scale(0.86,1)" font-size="6.4" text-anchor="middle" fill="#262626">24</text>
<line x1="496.92" y1="285.50" x2="496.92" y2="288.30" stroke="#222" stroke-width="0.9" />
<text transform="translate(496.92,297.30) scale(0.86,1)" font-size="6.4" text-anchor="middle" fill="#262626">25</text>
<text x="397.80" y="195.7" font-size="8.6" text-anchor="middle" fill="#222" textLength="121.9" lengthAdjust="spacingAndGlyphs">Correlation TWI vs. Vessel Density</text>
<text x="396.70" y="308.10" font-size="7" font-weight="bold" text-anchor="middle" fill="#262626" textLength="54" lengthAdjust="spacingAndGlyphs">Vessel diameter (μm)</text>
<text transform="translate(272.80,242.50) rotate(-90)" font-size="7" font-weight="bold" text-anchor="middle" fill="#262626" textLength="59.5" lengthAdjust="spacingAndGlyphs">Rho TWI/vessel density</text>
<line x1="68.10" y1="319.40" x2="76.30" y2="319.40" stroke="#2a2a2a" stroke-width="1" />
<text x="79.30" y="321.60" font-size="6.1" text-anchor="start" font-weight="normal" fill="#262626" >Upper CI</text>
<line x1="115.80" y1="319.40" x2="122.50" y2="319.40" stroke="#c8c8c8" stroke-width="1" />
<text x="125.40" y="321.60" font-size="6.1" text-anchor="start" font-weight="normal" fill="#262626" >Lower CI</text>
<line x1="157.50" y1="319.40" x2="166.10" y2="319.40" stroke="#c02850" stroke-width="1" />
<text x="169.10" y="321.60" font-size="6.2" fill="#262626" textLength="71" lengthAdjust="spacingAndGlyphs">Rho NIR vs. vessel density</text>
<line x1="319.80" y1="319.40" x2="328.00" y2="319.40" stroke="#2a2a2a" stroke-width="1" />
<text x="331.00" y="321.60" font-size="6.1" text-anchor="start" font-weight="normal" fill="#262626" >Upper CI</text>
<line x1="367.50" y1="319.40" x2="374.20" y2="319.40" stroke="#c8c8c8" stroke-width="1" />
<text x="377.10" y="321.60" font-size="6.1" text-anchor="start" font-weight="normal" fill="#262626" >Lower CI</text>
<line x1="409.20" y1="319.40" x2="417.80" y2="319.40" stroke="#c02850" stroke-width="1" />
<text x="420.80" y="321.60" font-size="6.2" fill="#262626" textLength="71" lengthAdjust="spacingAndGlyphs">Rho TWI vs. vessel density</text>
<text x="6.60" y="348.10" font-size="11" text-anchor="start" font-weight="bold" fill="#111" >D</text>
<line x1="40.50" y1="376.90" x2="168.00" y2="394.60" stroke="#222" stroke-width="0.9"/>
<circle cx="72.90" cy="363.50" r="1.35" fill="#2c5a88" stroke="#1c3c5c" stroke-width="0.4"/>
<circle cx="78.10" cy="366.30" r="1.35" fill="#2c5a88" stroke="#1c3c5c" stroke-width="0.4"/>
<circle cx="79.70" cy="366.50" r="1.35" fill="#2c5a88" stroke="#1c3c5c" stroke-width="0.4"/>
<circle cx="84.60" cy="366.80" r="1.35" fill="#2c5a88" stroke="#1c3c5c" stroke-width="0.4"/>
<circle cx="86.80" cy="365.70" r="1.35" fill="#2c5a88" stroke="#1c3c5c" stroke-width="0.4"/>
<circle cx="88.70" cy="365.10" r="1.35" fill="#2c5a88" stroke="#1c3c5c" stroke-width="0.4"/>
<circle cx="103.50" cy="365.60" r="1.35" fill="#2c5a88" stroke="#1c3c5c" stroke-width="0.4"/>
<circle cx="82.80" cy="371.40" r="1.35" fill="#2c5a88" stroke="#1c3c5c" stroke-width="0.4"/>
<circle cx="85.40" cy="369.80" r="1.35" fill="#2c5a88" stroke="#1c3c5c" stroke-width="0.4"/>
<circle cx="86.80" cy="371.40" r="1.35" fill="#2c5a88" stroke="#1c3c5c" stroke-width="0.4"/>
<circle cx="88.20" cy="374.50" r="1.35" fill="#2c5a88" stroke="#1c3c5c" stroke-width="0.4"/>
<circle cx="78.10" cy="373.10" r="1.35" fill="#2c5a88" stroke="#1c3c5c" stroke-width="0.4"/>
<circle cx="94.50" cy="372.00" r="1.35" fill="#2c5a88" stroke="#1c3c5c" stroke-width="0.4"/>
<circle cx="92.80" cy="374.50" r="1.35" fill="#2c5a88" stroke="#1c3c5c" stroke-width="0.4"/>
<circle cx="102.10" cy="373.60" r="1.35" fill="#2c5a88" stroke="#1c3c5c" stroke-width="0.4"/>
<circle cx="100.50" cy="374.70" r="1.35" fill="#2c5a88" stroke="#1c3c5c" stroke-width="0.4"/>
<circle cx="73.30" cy="378.20" r="1.35" fill="#2c5a88" stroke="#1c3c5c" stroke-width="0.4"/>
<circle cx="78.10" cy="377.40" r="1.35" fill="#2c5a88" stroke="#1c3c5c" stroke-width="0.4"/>
<circle cx="80.20" cy="378.90" r="1.35" fill="#2c5a88" stroke="#1c3c5c" stroke-width="0.4"/>
<circle cx="84.60" cy="378.50" r="1.35" fill="#2c5a88" stroke="#1c3c5c" stroke-width="0.4"/>
<circle cx="85.20" cy="380.70" r="1.35" fill="#2c5a88" stroke="#1c3c5c" stroke-width="0.4"/>
<circle cx="92.80" cy="378.00" r="1.35" fill="#2c5a88" stroke="#1c3c5c" stroke-width="0.4"/>
<circle cx="95.00" cy="379.10" r="1.35" fill="#2c5a88" stroke="#1c3c5c" stroke-width="0.4"/>
<circle cx="99.40" cy="378.30" r="1.35" fill="#2c5a88" stroke="#1c3c5c" stroke-width="0.4"/>
<circle cx="73.70" cy="382.40" r="1.35" fill="#2c5a88" stroke="#1c3c5c" stroke-width="0.4"/>
<circle cx="78.10" cy="381.30" r="1.35" fill="#2c5a88" stroke="#1c3c5c" stroke-width="0.4"/>
<circle cx="79.70" cy="382.40" r="1.35" fill="#2c5a88" stroke="#1c3c5c" stroke-width="0.4"/>
<circle cx="89.50" cy="381.30" r="1.35" fill="#2c5a88" stroke="#1c3c5c" stroke-width="0.4"/>
<circle cx="93.90" cy="381.80" r="1.35" fill="#2c5a88" stroke="#1c3c5c" stroke-width="0.4"/>
<circle cx="74.20" cy="386.70" r="1.35" fill="#2c5a88" stroke="#1c3c5c" stroke-width="0.4"/>
<circle cx="81.90" cy="385.60" r="1.35" fill="#2c5a88" stroke="#1c3c5c" stroke-width="0.4"/>
<circle cx="83.50" cy="384.80" r="1.35" fill="#2c5a88" stroke="#1c3c5c" stroke-width="0.4"/>
<circle cx="86.30" cy="386.20" r="1.35" fill="#2c5a88" stroke="#1c3c5c" stroke-width="0.4"/>
<circle cx="87.40" cy="384.50" r="1.35" fill="#2c5a88" stroke="#1c3c5c" stroke-width="0.4"/>
<circle cx="92.30" cy="385.60" r="1.35" fill="#2c5a88" stroke="#1c3c5c" stroke-width="0.4"/>
<circle cx="97.70" cy="384.00" r="1.35" fill="#2c5a88" stroke="#1c3c5c" stroke-width="0.4"/>
<circle cx="80.80" cy="391.10" r="1.35" fill="#2c5a88" stroke="#1c3c5c" stroke-width="0.4"/>
<circle cx="81.90" cy="392.70" r="1.35" fill="#2c5a88" stroke="#1c3c5c" stroke-width="0.4"/>
<circle cx="83.50" cy="391.10" r="1.35" fill="#2c5a88" stroke="#1c3c5c" stroke-width="0.4"/>
<circle cx="85.20" cy="390.00" r="1.35" fill="#2c5a88" stroke="#1c3c5c" stroke-width="0.4"/>
<circle cx="89.00" cy="390.00" r="1.35" fill="#2c5a88" stroke="#1c3c5c" stroke-width="0.4"/>
<circle cx="91.70" cy="392.70" r="1.35" fill="#2c5a88" stroke="#1c3c5c" stroke-width="0.4"/>
<circle cx="93.90" cy="392.20" r="1.35" fill="#2c5a88" stroke="#1c3c5c" stroke-width="0.4"/>
<circle cx="95.00" cy="390.60" r="1.35" fill="#2c5a88" stroke="#1c3c5c" stroke-width="0.4"/>
<circle cx="98.30" cy="390.60" r="1.35" fill="#2c5a88" stroke="#1c3c5c" stroke-width="0.4"/>
<circle cx="102.10" cy="390.90" r="1.35" fill="#2c5a88" stroke="#1c3c5c" stroke-width="0.4"/>
<circle cx="80.80" cy="395.50" r="1.35" fill="#2c5a88" stroke="#1c3c5c" stroke-width="0.4"/>
<circle cx="81.30" cy="397.10" r="1.35" fill="#2c5a88" stroke="#1c3c5c" stroke-width="0.4"/>
<circle cx="74.80" cy="395.50" r="1.35" fill="#2c5a88" stroke="#1c3c5c" stroke-width="0.4"/>
<circle cx="86.80" cy="397.10" r="1.35" fill="#2c5a88" stroke="#1c3c5c" stroke-width="0.4"/>
<circle cx="102.10" cy="397.10" r="1.35" fill="#2c5a88" stroke="#1c3c5c" stroke-width="0.4"/>
<circle cx="71.50" cy="399.60" r="1.35" fill="#2c5a88" stroke="#1c3c5c" stroke-width="0.4"/>
<circle cx="85.00" cy="401.00" r="1.35" fill="#2c5a88" stroke="#1c3c5c" stroke-width="0.4"/>
<circle cx="108.70" cy="388.90" r="1.35" fill="#2c5a88" stroke="#1c3c5c" stroke-width="0.4"/>
<circle cx="108.70" cy="392.20" r="1.35" fill="#2c5a88" stroke="#1c3c5c" stroke-width="0.4"/>
<circle cx="127.00" cy="364.50" r="1.35" fill="#2c5a88" stroke="#1c3c5c" stroke-width="0.4"/>
<circle cx="116.20" cy="370.90" r="1.35" fill="#2c5a88" stroke="#1c3c5c" stroke-width="0.4"/>
<circle cx="119.50" cy="379.30" r="1.35" fill="#2c5a88" stroke="#1c3c5c" stroke-width="0.4"/>
<circle cx="130.90" cy="379.30" r="1.35" fill="#2c5a88" stroke="#1c3c5c" stroke-width="0.4"/>
<circle cx="126.80" cy="381.30" r="1.35" fill="#2c5a88" stroke="#1c3c5c" stroke-width="0.4"/>
<circle cx="136.70" cy="381.80" r="1.35" fill="#2c5a88" stroke="#1c3c5c" stroke-width="0.4"/>
<circle cx="123.50" cy="385.40" r="1.35" fill="#2c5a88" stroke="#1c3c5c" stroke-width="0.4"/>
<circle cx="131.90" cy="384.30" r="1.35" fill="#2c5a88" stroke="#1c3c5c" stroke-width="0.4"/>
<circle cx="131.20" cy="385.60" r="1.35" fill="#2c5a88" stroke="#1c3c5c" stroke-width="0.4"/>
<circle cx="140.30" cy="386.50" r="1.35" fill="#2c5a88" stroke="#1c3c5c" stroke-width="0.4"/>
<circle cx="118.10" cy="388.40" r="1.35" fill="#2c5a88" stroke="#1c3c5c" stroke-width="0.4"/>
<circle cx="110.40" cy="391.10" r="1.35" fill="#2c5a88" stroke="#1c3c5c" stroke-width="0.4"/>
<circle cx="127.10" cy="392.20" r="1.35" fill="#2c5a88" stroke="#1c3c5c" stroke-width="0.4"/>
<circle cx="128.20" cy="394.60" r="1.35" fill="#2c5a88" stroke="#1c3c5c" stroke-width="0.4"/>
<circle cx="143.20" cy="394.20" r="1.35" fill="#2c5a88" stroke="#1c3c5c" stroke-width="0.4"/>
<circle cx="117.50" cy="396.40" r="1.35" fill="#2c5a88" stroke="#1c3c5c" stroke-width="0.4"/>
<circle cx="121.30" cy="398.50" r="1.35" fill="#2c5a88" stroke="#1c3c5c" stroke-width="0.4"/>
<circle cx="148.10" cy="398.50" r="1.35" fill="#2c5a88" stroke="#1c3c5c" stroke-width="0.4"/>
<circle cx="118.60" cy="401.80" r="1.35" fill="#2c5a88" stroke="#1c3c5c" stroke-width="0.4"/>
<circle cx="121.90" cy="402.60" r="1.35" fill="#2c5a88" stroke="#1c3c5c" stroke-width="0.4"/>
<circle cx="99.80" cy="422.90" r="1.35" fill="#2c5a88" stroke="#1c3c5c" stroke-width="0.4"/>
<circle cx="105.40" cy="406.80" r="1.35" fill="#2c5a88" stroke="#1c3c5c" stroke-width="0.4"/>
<circle cx="107.70" cy="411.20" r="1.35" fill="#2c5a88" stroke="#1c3c5c" stroke-width="0.4"/>
<circle cx="48.20" cy="381.60" r="1.35" fill="#2c5a88" stroke="#1c3c5c" stroke-width="0.4"/>
<circle cx="57.70" cy="376.30" r="1.35" fill="#2c5a88" stroke="#1c3c5c" stroke-width="0.4"/>
<line x1="40.10" y1="351.30" x2="40.10" y2="425.40" stroke="#222" stroke-width="1" />
<line x1="39.60" y1="425.40" x2="168.00" y2="425.40" stroke="#222" stroke-width="1" />
<line x1="37.10" y1="424.80" x2="40.10" y2="424.80" stroke="#222" stroke-width="0.9" />
<text x="33.50" y="427.00" font-size="6.3" text-anchor="end" font-weight="normal" fill="#262626" >30</text>
<line x1="37.10" y1="410.90" x2="40.10" y2="410.90" stroke="#222" stroke-width="0.9" />
<text x="33.50" y="413.10" font-size="6.3" text-anchor="end" font-weight="normal" fill="#262626" >40</text>
<line x1="37.10" y1="397.00" x2="40.10" y2="397.00" stroke="#222" stroke-width="0.9" />
<text x="33.50" y="399.20" font-size="6.3" text-anchor="end" font-weight="normal" fill="#262626" >50</text>
<line x1="37.10" y1="383.10" x2="40.10" y2="383.10" stroke="#222" stroke-width="0.9" />
<text x="33.50" y="385.30" font-size="6.3" text-anchor="end" font-weight="normal" fill="#262626" >60</text>
<line x1="37.10" y1="369.20" x2="40.10" y2="369.20" stroke="#222" stroke-width="0.9" />
<text x="33.50" y="371.40" font-size="6.3" text-anchor="end" font-weight="normal" fill="#262626" >70</text>
<line x1="37.10" y1="355.30" x2="40.10" y2="355.30" stroke="#222" stroke-width="0.9" />
<text x="33.50" y="357.50" font-size="6.3" text-anchor="end" font-weight="normal" fill="#262626" >80</text>
<line x1="40.90" y1="425.40" x2="40.90" y2="428.20" stroke="#222" stroke-width="0.9" />
<text x="40.90" y="437.10" font-size="6.3" text-anchor="middle" font-weight="normal" fill="#262626" >−4</text>
<line x1="64.90" y1="425.40" x2="64.90" y2="428.20" stroke="#222" stroke-width="0.9" />
<text x="64.90" y="437.10" font-size="6.3" text-anchor="middle" font-weight="normal" fill="#262626" >−2</text>
<line x1="88.90" y1="425.40" x2="88.90" y2="428.20" stroke="#222" stroke-width="0.9" />
<text x="88.90" y="437.10" font-size="6.3" text-anchor="middle" font-weight="normal" fill="#262626" >0</text>
<line x1="112.90" y1="425.40" x2="112.90" y2="428.20" stroke="#222" stroke-width="0.9" />
<text x="112.90" y="437.10" font-size="6.3" text-anchor="middle" font-weight="normal" fill="#262626" >2</text>
<line x1="136.90" y1="425.40" x2="136.90" y2="428.20" stroke="#222" stroke-width="0.9" />
<text x="136.90" y="437.10" font-size="6.3" text-anchor="middle" font-weight="normal" fill="#262626" >4</text>
<line x1="160.90" y1="425.40" x2="160.90" y2="428.20" stroke="#222" stroke-width="0.9" />
<text x="160.90" y="437.10" font-size="6.3" text-anchor="middle" font-weight="normal" fill="#262626" >6</text>
<text x="50.20" y="358.70" font-size="6.4" fill="#262626"><tspan font-style="italic">P</tspan> = .017</text>
<text x="104.30" y="448.10" font-size="7" font-weight="bold" text-anchor="middle" fill="#262626" textLength="27.4" lengthAdjust="spacingAndGlyphs">EASIX log2</text>
<text transform="translate(21.20,388.00) rotate(-90)" font-size="7" font-weight="bold" text-anchor="middle" fill="#262626" textLength="10.8" lengthAdjust="spacingAndGlyphs">NIR</text>
<line x1="208.30" y1="401.60" x2="335.80" y2="375.70" stroke="#222" stroke-width="0.9"/>
<circle cx="242.40" cy="367.40" r="1.35" fill="#2c5a88" stroke="#1c3c5c" stroke-width="0.4"/>
<circle cx="250.30" cy="367.40" r="1.35" fill="#2c5a88" stroke="#1c3c5c" stroke-width="0.4"/>
<circle cx="259.30" cy="367.40" r="1.35" fill="#2c5a88" stroke="#1c3c5c" stroke-width="0.4"/>
<circle cx="259.60" cy="368.80" r="1.35" fill="#2c5a88" stroke="#1c3c5c" stroke-width="0.4"/>
<circle cx="267.30" cy="368.80" r="1.35" fill="#2c5a88" stroke="#1c3c5c" stroke-width="0.4"/>
<circle cx="269.80" cy="367.40" r="1.35" fill="#2c5a88" stroke="#1c3c5c" stroke-width="0.4"/>
<circle cx="268.40" cy="371.50" r="1.35" fill="#2c5a88" stroke="#1c3c5c" stroke-width="0.4"/>
<circle cx="277.70" cy="367.40" r="1.35" fill="#2c5a88" stroke="#1c3c5c" stroke-width="0.4"/>
<circle cx="247.90" cy="375.90" r="1.35" fill="#2c5a88" stroke="#1c3c5c" stroke-width="0.4"/>
<circle cx="254.70" cy="374.00" r="1.35" fill="#2c5a88" stroke="#1c3c5c" stroke-width="0.4"/>
<circle cx="259.30" cy="374.00" r="1.35" fill="#2c5a88" stroke="#1c3c5c" stroke-width="0.4"/>
<circle cx="262.40" cy="377.00" r="1.35" fill="#2c5a88" stroke="#1c3c5c" stroke-width="0.4"/>
<circle cx="245.40" cy="380.00" r="1.35" fill="#2c5a88" stroke="#1c3c5c" stroke-width="0.4"/>
<circle cx="255.20" cy="378.60" r="1.35" fill="#2c5a88" stroke="#1c3c5c" stroke-width="0.4"/>
<circle cx="261.00" cy="381.30" r="1.35" fill="#2c5a88" stroke="#1c3c5c" stroke-width="0.4"/>
<circle cx="261.00" cy="383.50" r="1.35" fill="#2c5a88" stroke="#1c3c5c" stroke-width="0.4"/>
<circle cx="261.30" cy="386.30" r="1.35" fill="#2c5a88" stroke="#1c3c5c" stroke-width="0.4"/>
<circle cx="275.50" cy="380.20" r="1.35" fill="#2c5a88" stroke="#1c3c5c" stroke-width="0.4"/>
<circle cx="278.20" cy="380.20" r="1.35" fill="#2c5a88" stroke="#1c3c5c" stroke-width="0.4"/>
<circle cx="239.60" cy="382.80" r="1.35" fill="#2c5a88" stroke="#1c3c5c" stroke-width="0.4"/>
<circle cx="252.50" cy="383.50" r="1.35" fill="#2c5a88" stroke="#1c3c5c" stroke-width="0.4"/>
<circle cx="248.10" cy="385.70" r="1.35" fill="#2c5a88" stroke="#1c3c5c" stroke-width="0.4"/>
<circle cx="247.90" cy="387.40" r="1.35" fill="#2c5a88" stroke="#1c3c5c" stroke-width="0.4"/>
<circle cx="246.50" cy="389.50" r="1.35" fill="#2c5a88" stroke="#1c3c5c" stroke-width="0.4"/>
<circle cx="254.10" cy="387.10" r="1.35" fill="#2c5a88" stroke="#1c3c5c" stroke-width="0.4"/>
<circle cx="257.40" cy="388.70" r="1.35" fill="#2c5a88" stroke="#1c3c5c" stroke-width="0.4"/>
<circle cx="269.50" cy="384.30" r="1.35" fill="#2c5a88" stroke="#1c3c5c" stroke-width="0.4"/>
<circle cx="242.10" cy="390.10" r="1.35" fill="#2c5a88" stroke="#1c3c5c" stroke-width="0.4"/>
<circle cx="241.30" cy="391.70" r="1.35" fill="#2c5a88" stroke="#1c3c5c" stroke-width="0.4"/>
<circle cx="262.40" cy="390.10" r="1.35" fill="#2c5a88" stroke="#1c3c5c" stroke-width="0.4"/>
<circle cx="264.50" cy="391.70" r="1.35" fill="#2c5a88" stroke="#1c3c5c" stroke-width="0.4"/>
<circle cx="270.60" cy="391.20" r="1.35" fill="#2c5a88" stroke="#1c3c5c" stroke-width="0.4"/>
<circle cx="245.90" cy="393.90" r="1.35" fill="#2c5a88" stroke="#1c3c5c" stroke-width="0.4"/>
<circle cx="249.20" cy="393.40" r="1.35" fill="#2c5a88" stroke="#1c3c5c" stroke-width="0.4"/>
<circle cx="251.40" cy="395.00" r="1.35" fill="#2c5a88" stroke="#1c3c5c" stroke-width="0.4"/>
<circle cx="254.10" cy="394.80" r="1.35" fill="#2c5a88" stroke="#1c3c5c" stroke-width="0.4"/>
<circle cx="261.30" cy="393.90" r="1.35" fill="#2c5a88" stroke="#1c3c5c" stroke-width="0.4"/>
<circle cx="262.90" cy="394.80" r="1.35" fill="#2c5a88" stroke="#1c3c5c" stroke-width="0.4"/>
<circle cx="267.80" cy="394.80" r="1.35" fill="#2c5a88" stroke="#1c3c5c" stroke-width="0.4"/>
<circle cx="247.00" cy="396.70" r="1.35" fill="#2c5a88" stroke="#1c3c5c" stroke-width="0.4"/>
<circle cx="249.20" cy="397.70" r="1.35" fill="#2c5a88" stroke="#1c3c5c" stroke-width="0.4"/>
<circle cx="252.50" cy="397.70" r="1.35" fill="#2c5a88" stroke="#1c3c5c" stroke-width="0.4"/>
<circle cx="256.30" cy="397.00" r="1.35" fill="#2c5a88" stroke="#1c3c5c" stroke-width="0.4"/>
<circle cx="241.60" cy="398.30" r="1.35" fill="#2c5a88" stroke="#1c3c5c" stroke-width="0.4"/>
<circle cx="265.60" cy="397.20" r="1.35" fill="#2c5a88" stroke="#1c3c5c" stroke-width="0.4"/>
<circle cx="276.00" cy="395.60" r="1.35" fill="#2c5a88" stroke="#1c3c5c" stroke-width="0.4"/>
<circle cx="283.70" cy="398.30" r="1.35" fill="#2c5a88" stroke="#1c3c5c" stroke-width="0.4"/>
<circle cx="246.50" cy="401.00" r="1.35" fill="#2c5a88" stroke="#1c3c5c" stroke-width="0.4"/>
<circle cx="250.90" cy="400.50" r="1.35" fill="#2c5a88" stroke="#1c3c5c" stroke-width="0.4"/>
<circle cx="260.20" cy="398.80" r="1.35" fill="#2c5a88" stroke="#1c3c5c" stroke-width="0.4"/>
<circle cx="259.60" cy="400.30" r="1.35" fill="#2c5a88" stroke="#1c3c5c" stroke-width="0.4"/>
<circle cx="263.40" cy="402.70" r="1.35" fill="#2c5a88" stroke="#1c3c5c" stroke-width="0.4"/>
<circle cx="243.80" cy="404.90" r="1.35" fill="#2c5a88" stroke="#1c3c5c" stroke-width="0.4"/>
<circle cx="245.40" cy="406.80" r="1.35" fill="#2c5a88" stroke="#1c3c5c" stroke-width="0.4"/>
<circle cx="251.40" cy="406.50" r="1.35" fill="#2c5a88" stroke="#1c3c5c" stroke-width="0.4"/>
<circle cx="253.10" cy="404.90" r="1.35" fill="#2c5a88" stroke="#1c3c5c" stroke-width="0.4"/>
<circle cx="255.20" cy="404.30" r="1.35" fill="#2c5a88" stroke="#1c3c5c" stroke-width="0.4"/>
<circle cx="273.30" cy="404.30" r="1.35" fill="#2c5a88" stroke="#1c3c5c" stroke-width="0.4"/>
<circle cx="241.60" cy="409.20" r="1.35" fill="#2c5a88" stroke="#1c3c5c" stroke-width="0.4"/>
<circle cx="254.10" cy="409.20" r="1.35" fill="#2c5a88" stroke="#1c3c5c" stroke-width="0.4"/>
<circle cx="283.70" cy="385.70" r="1.35" fill="#2c5a88" stroke="#1c3c5c" stroke-width="0.4"/>
<circle cx="298.30" cy="367.30" r="1.35" fill="#2c5a88" stroke="#1c3c5c" stroke-width="0.4"/>
<circle cx="289.10" cy="374.60" r="1.35" fill="#2c5a88" stroke="#1c3c5c" stroke-width="0.4"/>
<circle cx="315.90" cy="375.40" r="1.35" fill="#2c5a88" stroke="#1c3c5c" stroke-width="0.4"/>
<circle cx="286.10" cy="378.70" r="1.35" fill="#2c5a88" stroke="#1c3c5c" stroke-width="0.4"/>
<circle cx="299.10" cy="377.20" r="1.35" fill="#2c5a88" stroke="#1c3c5c" stroke-width="0.4"/>
<circle cx="291.40" cy="382.90" r="1.35" fill="#2c5a88" stroke="#1c3c5c" stroke-width="0.4"/>
<circle cx="294.50" cy="382.90" r="1.35" fill="#2c5a88" stroke="#1c3c5c" stroke-width="0.4"/>
<circle cx="304.50" cy="381.30" r="1.35" fill="#2c5a88" stroke="#1c3c5c" stroke-width="0.4"/>
<circle cx="310.10" cy="380.00" r="1.35" fill="#2c5a88" stroke="#1c3c5c" stroke-width="0.4"/>
<circle cx="285.30" cy="385.60" r="1.35" fill="#2c5a88" stroke="#1c3c5c" stroke-width="0.4"/>
<circle cx="288.40" cy="387.20" r="1.35" fill="#2c5a88" stroke="#1c3c5c" stroke-width="0.4"/>
<circle cx="298.30" cy="388.40" r="1.35" fill="#2c5a88" stroke="#1c3c5c" stroke-width="0.4"/>
<circle cx="295.30" cy="391.30" r="1.35" fill="#2c5a88" stroke="#1c3c5c" stroke-width="0.4"/>
<circle cx="286.50" cy="397.10" r="1.35" fill="#2c5a88" stroke="#1c3c5c" stroke-width="0.4"/>
<circle cx="286.80" cy="399.90" r="1.35" fill="#2c5a88" stroke="#1c3c5c" stroke-width="0.4"/>
<circle cx="294.20" cy="396.80" r="1.35" fill="#2c5a88" stroke="#1c3c5c" stroke-width="0.4"/>
<circle cx="294.20" cy="398.60" r="1.35" fill="#2c5a88" stroke="#1c3c5c" stroke-width="0.4"/>
<circle cx="307.50" cy="395.60" r="1.35" fill="#2c5a88" stroke="#1c3c5c" stroke-width="0.4"/>
<circle cx="225.60" cy="408.60" r="1.35" fill="#2c5a88" stroke="#1c3c5c" stroke-width="0.4"/>
<circle cx="240.40" cy="410.20" r="1.35" fill="#2c5a88" stroke="#1c3c5c" stroke-width="0.4"/>
<circle cx="241.00" cy="412.70" r="1.35" fill="#2c5a88" stroke="#1c3c5c" stroke-width="0.4"/>
<circle cx="249.30" cy="411.30" r="1.35" fill="#2c5a88" stroke="#1c3c5c" stroke-width="0.4"/>
<circle cx="255.30" cy="410.00" r="1.35" fill="#2c5a88" stroke="#1c3c5c" stroke-width="0.4"/>
<circle cx="261.50" cy="411.30" r="1.35" fill="#2c5a88" stroke="#1c3c5c" stroke-width="0.4"/>
<circle cx="255.30" cy="415.60" r="1.35" fill="#2c5a88" stroke="#1c3c5c" stroke-width="0.4"/>
<circle cx="256.60" cy="417.50" r="1.35" fill="#2c5a88" stroke="#1c3c5c" stroke-width="0.4"/>
<circle cx="267.90" cy="415.60" r="1.35" fill="#2c5a88" stroke="#1c3c5c" stroke-width="0.4"/>
<circle cx="245.80" cy="402.20" r="1.35" fill="#2c5a88" stroke="#1c3c5c" stroke-width="0.4"/>
<circle cx="216.20" cy="401.30" r="1.35" fill="#2c5a88" stroke="#1c3c5c" stroke-width="0.4"/>
<line x1="208.30" y1="351.40" x2="208.30" y2="425.60" stroke="#222" stroke-width="1" />
<line x1="207.80" y1="425.60" x2="334.50" y2="425.60" stroke="#222" stroke-width="1" />
<line x1="205.30" y1="425.30" x2="208.30" y2="425.30" stroke="#222" stroke-width="0.9" />
<text x="201.70" y="427.50" font-size="6.3" text-anchor="end" font-weight="normal" fill="#262626" >45</text>
<line x1="205.30" y1="411.30" x2="208.30" y2="411.30" stroke="#222" stroke-width="0.9" />
<text x="201.70" y="413.50" font-size="6.3" text-anchor="end" font-weight="normal" fill="#262626" >50</text>
<line x1="205.30" y1="397.30" x2="208.30" y2="397.30" stroke="#222" stroke-width="0.9" />
<text x="201.70" y="399.50" font-size="6.3" text-anchor="end" font-weight="normal" fill="#262626" >55</text>
<line x1="205.30" y1="383.30" x2="208.30" y2="383.30" stroke="#222" stroke-width="0.9" />
<text x="201.70" y="385.50" font-size="6.3" text-anchor="end" font-weight="normal" fill="#262626" >60</text>
<line x1="205.30" y1="369.30" x2="208.30" y2="369.30" stroke="#222" stroke-width="0.9" />
<text x="201.70" y="371.50" font-size="6.3" text-anchor="end" font-weight="normal" fill="#262626" >65</text>
<line x1="205.30" y1="355.30" x2="208.30" y2="355.30" stroke="#222" stroke-width="0.9" />
<text x="201.70" y="357.50" font-size="6.3" text-anchor="end" font-weight="normal" fill="#262626" >70</text>
<line x1="208.20" y1="425.60" x2="208.20" y2="428.40" stroke="#222" stroke-width="0.9" />
<text x="208.20" y="437.30" font-size="6.3" text-anchor="middle" font-weight="normal" fill="#262626" >−4</text>
<line x1="232.40" y1="425.60" x2="232.40" y2="428.40" stroke="#222" stroke-width="0.9" />
<text x="232.40" y="437.30" font-size="6.3" text-anchor="middle" font-weight="normal" fill="#262626" >−2</text>
<line x1="256.60" y1="425.60" x2="256.60" y2="428.40" stroke="#222" stroke-width="0.9" />
<text x="256.60" y="437.30" font-size="6.3" text-anchor="middle" font-weight="normal" fill="#262626" >0</text>
<line x1="280.80" y1="425.60" x2="280.80" y2="428.40" stroke="#222" stroke-width="0.9" />
<text x="280.80" y="437.30" font-size="6.3" text-anchor="middle" font-weight="normal" fill="#262626" >2</text>
<line x1="305.00" y1="425.60" x2="305.00" y2="428.40" stroke="#222" stroke-width="0.9" />
<text x="305.00" y="437.30" font-size="6.3" text-anchor="middle" font-weight="normal" fill="#262626" >4</text>
<line x1="329.20" y1="425.60" x2="329.20" y2="428.40" stroke="#222" stroke-width="0.9" />
<text x="329.20" y="437.30" font-size="6.3" text-anchor="middle" font-weight="normal" fill="#262626" >6</text>
<text x="217.90" y="358.80" font-size="6.4" fill="#262626"><tspan font-style="italic">P</tspan> = .001</text>
<text x="272.12" y="448.30" font-size="7" font-weight="bold" text-anchor="middle" fill="#262626" textLength="27.4" lengthAdjust="spacingAndGlyphs">EASIX log2</text>
<text transform="translate(190.60,387.60) rotate(-90)" font-size="7" font-weight="bold" text-anchor="middle" fill="#262626" textLength="10.8" lengthAdjust="spacingAndGlyphs">TWI</text>
<rect x="0" y="0" width="520" height="1" fill="#616161"/>
<rect x="0" y="0" width="1" height="457" fill="#5b5b5b"/>
<rect x="519" y="0" width="1" height="457" fill="#505050"/>
<rect x="518.8" y="0" width="0.4" height="457" fill="#9a9a9a"/>
<rect x="0" y="456" width="520" height="1" fill="#4e4e4e"/>
</svg></body></html>
